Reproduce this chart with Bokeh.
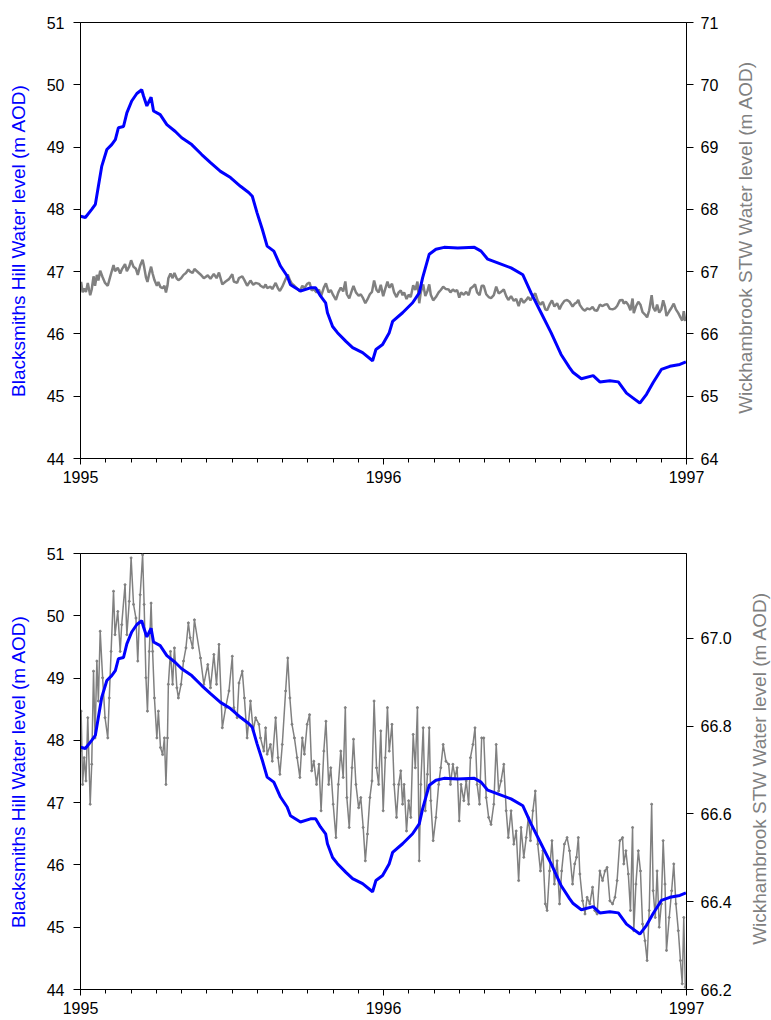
import math
from bokeh.plotting import figure
from bokeh.models import Range1d, LinearAxis, FixedTicker, PrintfTickFormatter, Label
from bokeh.layouts import column, row
from bokeh.embed import file_html
from bokeh.resources import INLINE

# ---------------- data ----------------
# Blacksmiths Hill water level (m AOD), decimal year
blue_year = [
    1995.000, 1995.016, 1995.037, 1995.049, 1995.059, 1995.070, 1995.087, 1995.103,
    1995.115, 1995.125, 1995.142, 1995.153, 1995.169, 1995.186, 1995.202, 1995.208,
    1995.219, 1995.233, 1995.241, 1995.263, 1995.285, 1995.313, 1995.334, 1995.367,
    1995.400, 1995.429, 1995.462, 1995.495, 1995.528, 1995.555, 1995.567, 1995.583,
    1995.600, 1995.616, 1995.638, 1995.660, 1995.682, 1995.693, 1995.726, 1995.759,
    1995.776, 1995.792, 1995.809, 1995.815, 1995.832, 1995.848, 1995.876, 1995.898,
    1995.931, 1995.964, 1995.975, 1995.997, 1996.019, 1996.030, 1996.063, 1996.096,
    1996.118, 1996.129, 1996.151, 1996.173, 1996.200, 1996.245, 1996.300, 1996.322,
    1996.344, 1996.377, 1996.421, 1996.460, 1996.487, 1996.520, 1996.553, 1996.586,
    1996.614, 1996.626, 1996.653, 1996.692, 1996.714, 1996.747, 1996.775, 1996.802,
    1996.824, 1996.846, 1996.868, 1996.890, 1996.917, 1996.945, 1996.978, 1996.998,
]
blue_level = [
    47.89, 47.87, 48.00, 48.08, 48.37, 48.69, 48.96, 49.04,
    49.12, 49.31, 49.33, 49.55, 49.74, 49.86, 49.92, 49.82,
    49.66, 49.80, 49.58, 49.52, 49.36, 49.25, 49.15, 49.04,
    48.88, 48.75, 48.61, 48.51, 48.37, 48.27, 48.21, 47.94,
    47.68, 47.41, 47.33, 47.09, 46.93, 46.79, 46.69, 46.74,
    46.74, 46.61, 46.50, 46.34, 46.12, 46.02, 45.88, 45.78,
    45.70, 45.57, 45.75, 45.83, 46.02, 46.20, 46.34, 46.50,
    46.66, 46.90, 47.28, 47.36, 47.39, 47.38, 47.39, 47.33,
    47.20, 47.14, 47.06, 46.95, 46.66, 46.34, 46.02, 45.67,
    45.46, 45.38, 45.28, 45.33, 45.23, 45.25, 45.23, 45.05,
    44.97, 44.89, 45.03, 45.22, 45.43, 45.48, 45.51, 45.55,
]

# Wickhambrook STW water level (m AOD), decimal year
gray_year = [
    1995.000, 1995.002, 1995.007, 1995.012, 1995.018, 1995.024, 1995.032, 1995.037,
    1995.043, 1995.048, 1995.054, 1995.059, 1995.065, 1995.073, 1995.081, 1995.090,
    1995.095, 1995.101, 1995.109, 1995.114, 1995.123, 1995.131, 1995.136, 1995.147,
    1995.153, 1995.161, 1995.167, 1995.175, 1995.183, 1995.189, 1995.197, 1995.205,
    1995.210, 1995.216, 1995.221, 1995.227, 1995.233, 1995.238, 1995.244, 1995.252,
    1995.257, 1995.264, 1995.271, 1995.277, 1995.282, 1995.287, 1995.290, 1995.297,
    1995.304, 1995.310, 1995.318, 1995.323, 1995.332, 1995.340, 1995.348, 1995.356,
    1995.362, 1995.370, 1995.376,
    1995.396, 1995.407, 1995.420, 1995.429, 1995.440, 1995.449, 1995.457, 1995.468,
    1995.479, 1995.490, 1995.501, 1995.506, 1995.517, 1995.523, 1995.534, 1995.541,
    1995.550, 1995.561, 1995.570, 1995.578, 1995.589, 1995.594, 1995.605, 1995.611,
    1995.616, 1995.627, 1995.633, 1995.644, 1995.652, 1995.658, 1995.666, 1995.677,
    1995.684, 1995.691, 1995.698, 1995.706, 1995.715, 1995.724, 1995.732, 1995.739,
    1995.748, 1995.756, 1995.763, 1995.770, 1995.779, 1995.787, 1995.794, 1995.803,
    1995.810, 1995.819, 1995.826, 1995.834, 1995.843, 1995.851, 1995.859, 1995.867,
    1995.874, 1995.879, 1995.887, 1995.896, 1995.901, 1995.909, 1995.918, 1995.925,
    1995.933, 1995.940, 1995.947, 1995.955, 1995.962, 1995.969, 1995.977, 1995.984,
    1995.991, 1995.999, 1996.006, 1996.013, 1996.019, 1996.028, 1996.035, 1996.043,
    1996.050, 1996.057, 1996.063, 1996.068, 1996.076, 1996.083, 1996.090, 1996.098,
    1996.105, 1996.112, 1996.118, 1996.123, 1996.131, 1996.138, 1996.145, 1996.151,
    1996.156, 1996.164, 1996.173, 1996.182, 1996.189, 1996.197, 1996.206,
    1996.215, 1996.221, 1996.229, 1996.236, 1996.243, 1996.250, 1996.256, 1996.265,
    1996.273, 1996.281, 1996.287, 1996.295, 1996.302, 1996.309, 1996.317, 1996.324,
    1996.331, 1996.339, 1996.347, 1996.355, 1996.364, 1996.372, 1996.380, 1996.388,
    1996.397, 1996.405, 1996.412, 1996.421, 1996.430, 1996.438, 1996.446, 1996.454,
    1996.463, 1996.471, 1996.478, 1996.485, 1996.493, 1996.501, 1996.509, 1996.518,
    1996.526, 1996.534, 1996.540, 1996.548, 1996.556, 1996.564, 1996.573, 1996.581,
    1996.588, 1996.597, 1996.606, 1996.614,
    1996.624, 1996.631, 1996.637, 1996.643, 1996.648, 1996.657, 1996.665, 1996.672,
    1996.681, 1996.690, 1996.697, 1996.705, 1996.714, 1996.723, 1996.731, 1996.738,
    1996.747, 1996.756, 1996.764, 1996.771, 1996.780, 1996.789, 1996.793, 1996.800,
    1996.808, 1996.815, 1996.822, 1996.826, 1996.833, 1996.841, 1996.848, 1996.855,
    1996.863, 1996.870, 1996.877, 1996.885, 1996.890, 1996.897, 1996.903, 1996.910,
    1996.917, 1996.923, 1996.929, 1996.934, 1996.943, 1996.951, 1996.958, 1996.965,
    1996.973, 1996.980, 1996.986, 1996.991, 1996.996,
]
gray_level = [
    66.743, 66.834, 66.667, 66.728, 66.675, 66.819, 66.622, 66.713,
    66.925, 66.773, 66.948, 66.857, 67.016, 66.910, 66.819, 66.773,
    66.864, 66.970, 67.107, 67.008, 67.061, 66.970, 67.031, 67.122,
    67.008, 67.084, 67.183, 67.077, 67.046, 66.948, 67.099, 67.190,
    67.077, 66.910, 66.834, 66.970, 67.080, 66.970, 66.864, 66.773,
    66.834, 66.751, 66.735, 66.773, 66.667, 66.773, 66.895, 66.970,
    66.895, 66.978, 66.887, 66.864, 66.895, 66.948, 66.978, 67.035,
    67.001, 66.978, 67.042,
    66.955, 66.895, 66.940, 66.887, 66.963, 66.895, 66.986, 66.796,
    66.842, 66.880, 66.959, 66.842, 66.819, 66.898, 66.925, 66.864,
    66.773, 66.857, 66.789, 66.819, 66.804, 66.773, 66.743, 66.796,
    66.736, 66.758, 66.720, 66.819, 66.728, 66.690, 66.758, 66.880,
    66.955, 66.864, 66.804, 66.773, 66.728, 66.683, 66.773, 66.736,
    66.804, 66.826, 66.698, 66.720, 66.667, 66.713, 66.607, 66.743,
    66.811, 66.667, 66.705, 66.622, 66.546, 66.667, 66.743, 66.683,
    66.842, 66.637, 66.569, 66.705, 66.770, 66.667, 66.614, 66.637,
    66.569, 66.493, 66.554, 66.637, 66.675, 66.857, 66.705, 66.667,
    66.789, 66.607, 66.728, 66.842, 66.743, 66.804, 66.667, 66.592,
    66.667, 66.698, 66.622, 66.667, 66.561, 66.630, 66.592, 66.781,
    66.705, 66.842, 66.493, 66.667, 66.796, 66.607, 66.690, 66.796,
    66.630, 66.539, 66.592, 66.667, 66.705, 66.758, 66.720,
    66.713, 66.667, 66.713, 66.683, 66.705, 66.584, 66.667, 66.630,
    66.675, 66.622, 66.728, 66.758, 66.796, 66.667, 66.622, 66.773,
    66.773, 66.637, 66.592, 66.576, 66.622, 66.758, 66.652, 66.675,
    66.713, 66.607, 66.546, 66.607, 66.531, 66.561, 66.448, 66.569,
    66.501, 66.546, 66.592, 66.539, 66.607, 66.652, 66.531, 66.470,
    66.516, 66.395, 66.380, 66.470, 66.539, 66.440, 66.493, 66.395,
    66.470, 66.531, 66.546, 66.516,
    66.440, 66.486, 66.501, 66.546, 66.463, 66.402, 66.372, 66.410,
    66.395, 66.433, 66.380, 66.372, 66.470, 66.448, 66.470, 66.478,
    66.402, 66.395, 66.410, 66.448, 66.539, 66.546, 66.486, 66.516,
    66.463, 66.380, 66.569, 66.334, 66.440, 66.516, 66.470, 66.349,
    66.311, 66.266, 66.380, 66.622, 66.425, 66.364, 66.470, 66.342,
    66.395, 66.539, 66.440, 66.289, 66.364, 66.425, 66.486, 66.395,
    66.334, 66.266, 66.213, 66.364, 66.205,
]

x_major_ticks = [1995, 1996, 1997]
x_minor_ticks = [1995 + m / 12 for m in range(25)]   # monthly minor ticks
left_ticks = [44, 45, 46, 47, 48, 49, 50, 51]
right_ticks_top = [64, 65, 66, 67, 68, 69, 70, 71]
right_ticks_bottom = [66.2, 66.4, 66.6, 66.8, 67.0]

left_label = "Blacksmiths Hill Water level (m AOD)"
right_label = "Wickhambrook STW Water level (m AOD)"

BLUE = "#0000FF"
GRAY = "#808080"
FONT = "Liberation Sans"
MAIN_W = 735
SIDE_W = 36


def style_axis(ax):
    ax.axis_line_color = "black"
    ax.axis_line_width = 1
    ax.major_tick_line_color = "black"
    ax.major_tick_in = 0
    ax.major_tick_out = 7
    ax.minor_tick_line_color = None
    ax.major_label_text_font = FONT
    ax.major_label_text_font_size = "16px"
    ax.major_label_text_color = "black"
    ax.axis_label_text_font = FONT
    ax.axis_label_text_font_size = "19px"
    ax.axis_label_text_font_style = "normal"


def make_fig(height, border_top, border_bottom, right_start, right_end, right_ticks, right_fmt):
    p = figure(width=MAIN_W, height=height, output_backend="svg", toolbar_location=None,
               x_range=Range1d(1995, 1997), y_range=Range1d(44, 51),
               min_border_left=80, min_border_right=MAIN_W - 80 - 606,
               min_border_top=border_top, min_border_bottom=border_bottom)
    p.extra_y_ranges = {"right": Range1d(right_start, right_end)}
    p.xgrid.visible = False
    p.ygrid.visible = False
    p.outline_line_color = "black"
    p.outline_line_width = 1
    p.background_fill_color = "white"
    p.border_fill_color = "white"

    xa = p.xaxis[0]
    style_axis(xa)
    xa.ticker = FixedTicker(ticks=x_major_ticks, minor_ticks=x_minor_ticks)
    xa.formatter = PrintfTickFormatter(format="%d")
    xa.major_tick_out = 6
    xa.minor_tick_line_color = "black"
    xa.minor_tick_in = 0
    xa.minor_tick_out = 4
    xa.major_label_standoff = 6

    ya = p.yaxis[0]
    style_axis(ya)
    ya.ticker = FixedTicker(ticks=left_ticks)
    ya.axis_label = left_label
    ya.axis_label_text_color = BLUE
    ya.major_label_standoff = 9
    ya.axis_label_standoff = 15

    ra = LinearAxis(y_range_name="right", ticker=FixedTicker(ticks=right_ticks),
                    formatter=PrintfTickFormatter(format=right_fmt))
    style_axis(ra)
    ra.major_label_standoff = 7
    p.add_layout(ra, "right")
    return p


def make_side(height, border_top, border_bottom, label_x):
    # narrow strip holding the right-hand axis title, reading bottom-to-top
    s = figure(width=SIDE_W, height=height, output_backend="svg", toolbar_location=None,
               x_range=Range1d(0, 1), y_range=Range1d(44, 51),
               x_axis_type=None, y_axis_type=None,
               min_border_left=0, min_border_right=0,
               min_border_top=border_top, min_border_bottom=border_bottom)
    s.outline_line_color = None
    s.xgrid.visible = False
    s.ygrid.visible = False
    s.add_layout(Label(x=label_x, y=47.55, text=right_label, angle=math.pi / 2,
                       text_align="center", text_baseline="middle",
                       text_font=FONT, text_font_size="19px", text_color=GRAY))
    return s


p1 = make_fig(498, 22, 40, 64, 71, right_ticks_top, "%d")
p1.line(gray_year, gray_level, line_color=GRAY, line_width=2.5, y_range_name="right")
p1.line(blue_year, blue_level, line_color=BLUE, line_width=3)
s1 = make_side(498, 22, 40, 0.29)

p2 = make_fig(521, 55, 30, 66.2, 67.193, right_ticks_bottom, "%.1f")
p2.line(gray_year, gray_level, line_color=GRAY, line_width=1.5, y_range_name="right")
p2.scatter(gray_year, gray_level, size=2, color=GRAY, y_range_name="right")
p2.line(blue_year, blue_level, line_color=BLUE, line_width=3)
s2 = make_side(521, 55, 30, 0.66)

layout = column(row(p1, s1, spacing=0), row(p2, s2, spacing=0), spacing=0)
open("out.html", "w").write(file_html(layout, INLINE))
